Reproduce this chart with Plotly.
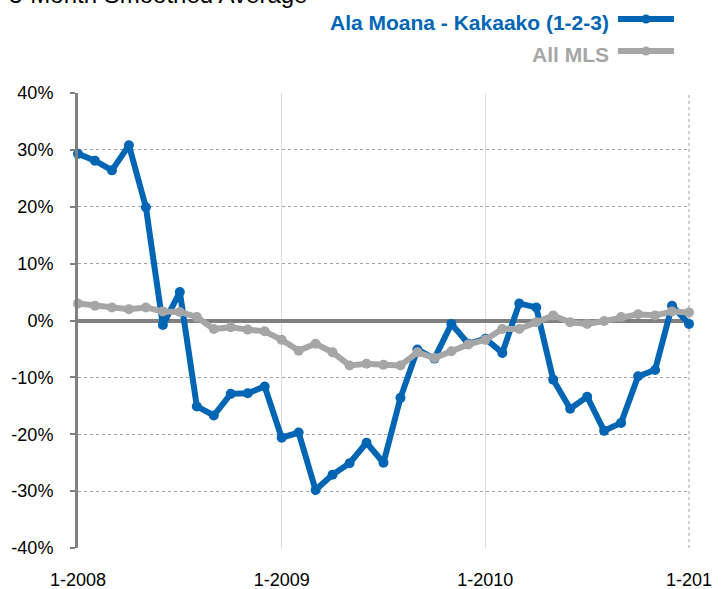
import plotly.graph_objects as go

# ---- data ----
months = [f"{m}-{y}" for y in (2008, 2009, 2010) for m in range(1, 13)] + ["1-2011"]
ala_moana = [29.3, 28.1, 26.4, 30.8, 19.9, -0.8, 5.0, -15.1, -16.7, -12.9, -12.8, -11.6,
             -20.6, -19.7, -29.8, -27.1, -25.1, -21.5, -25.0, -13.6, -5.1, -6.7, -0.6, -4.1,
             -3.2, -5.7, 3.0, 2.3, -10.4, -15.5, -13.4, -19.4, -18.0, -9.8, -8.7, 2.6, -0.6]
all_mls = [3.0, 2.6, 2.3, 2.0, 2.3, 1.6, 1.5, 0.6, -1.5, -1.2, -1.6, -1.9,
           -3.4, -5.3, -4.1, -5.6, -7.9, -7.6, -7.8, -7.9, -5.6, -6.6, -5.4, -4.2,
           -3.4, -1.5, -1.5, -0.3, 0.9, -0.3, -0.6, -0.1, 0.6, 1.1, 0.9, 1.6, 1.4]
x_tickvals = ["1-2008", "1-2009", "1-2010", "1-2011"]
x_ticktext = ["1-2008", "1-2009", "1-2010", "1-201"]
y_tickvals = [-40, -30, -20, -10, 0, 10, 20, 30, 40]
y_ticktext = [f"{v}%" for v in y_tickvals]
series_names = ["Ala Moana - Kakaako (1-2-3)", "All MLS"]
title_text = "3-Month Smoothed Average"

BLUE = "#0066B3"
GRAY = "#A6A6A6"
FONT = "Liberation Sans, Arial, sans-serif"

W, H = 722, 589
PLOT_L, PLOT_R, PLOT_T, PLOT_B = 78, 689, 93, 548   # page pixels
L, T, R, B = PLOT_L, PLOT_T, W - PLOT_R, H - PLOT_B
PW, PH = PLOT_R - PLOT_L, PLOT_B - PLOT_T

def px(xp):
    return (xp - PLOT_L) / PW

def py(yp):
    return (PLOT_B - yp) / PH

fig = go.Figure()
for name, vals, col in [(series_names[0], ala_moana, BLUE), (series_names[1], all_mls, GRAY)]:
    fig.add_trace(go.Scatter(
        x=months, y=vals, name=name, mode="lines+markers",
        line=dict(color=col, width=6),
        marker=dict(color=col, size=10),
        cliponaxis=False, showlegend=False,
    ))

fig.update_layout(
    width=W, height=H,
    margin=dict(l=L, r=R, t=T, b=B, autoexpand=False),
    paper_bgcolor="white", plot_bgcolor="white",
    font=dict(family=FONT, size=18, color="black"),
)
fig.update_xaxes(
    type="category", range=[0, len(months) - 1],
    tickvals=x_tickvals, ticktext=x_ticktext,
    showgrid=True, gridcolor="#DDDDDD", gridwidth=1,
    showline=False, zeroline=False, ticks="",
    ticklabelstandoff=19, automargin=False,
    tickfont=dict(size=18, color="black"),
)
fig.update_yaxes(
    range=[-40, 40], tickvals=y_tickvals, ticktext=y_ticktext,
    showgrid=True, gridcolor="#A0A0A0", gridwidth=1, griddash="dot",
    zeroline=True, zerolinecolor="#808080", zerolinewidth=4,
    showline=True, linecolor="#808080", linewidth=3,
    ticks="outside", ticklen=5, tickwidth=2, tickcolor="#808080",
    ticklabelstandoff=13, automargin=False,
    tickfont=dict(size=18, color="black"),
)

# right border of plot area (dotted)
fig.add_shape(type="line", xref="x domain", yref="y domain", x0=1, x1=1, y0=0, y1=1,
              line=dict(color="#A0A0A0", width=1, dash="dot"), layer="below")

# title (partially cut off at top, as in the reference)
fig.add_annotation(text=title_text, xref="paper", yref="paper",
                   x=px(7), y=py(10), xanchor="left", yanchor="bottom",
                   showarrow=False, font=dict(family=FONT, size=24, color="black"))

# custom legend: text on left, line sample on right
for i, (name, col) in enumerate([(series_names[0], BLUE), (series_names[1], GRAY)]):
    ty = [22, 54][i]
    ly = [19, 51][i]
    fig.add_annotation(text=f"<b>{name}</b>", xref="paper", yref="paper",
                       x=px(611), y=py(ty), xanchor="right", yanchor="middle",
                       showarrow=False, font=dict(family=FONT, size=21, color=col))
    fig.add_shape(type="line", xref="paper", yref="paper",
                  x0=px(618), x1=px(674), y0=py(ly), y1=py(ly),
                  line=dict(color=col, width=6))
    fig.add_shape(type="circle", xref="paper", yref="paper",
                  x0=px(641.5), x1=px(650.5), y0=py(ly - 4.5), y1=py(ly + 4.5),
                  fillcolor=col, line=dict(color=col, width=0))

fig.write_html("out.html", config={"displayModeBar": False},
               post_script="document.body.style.margin='0px';")
